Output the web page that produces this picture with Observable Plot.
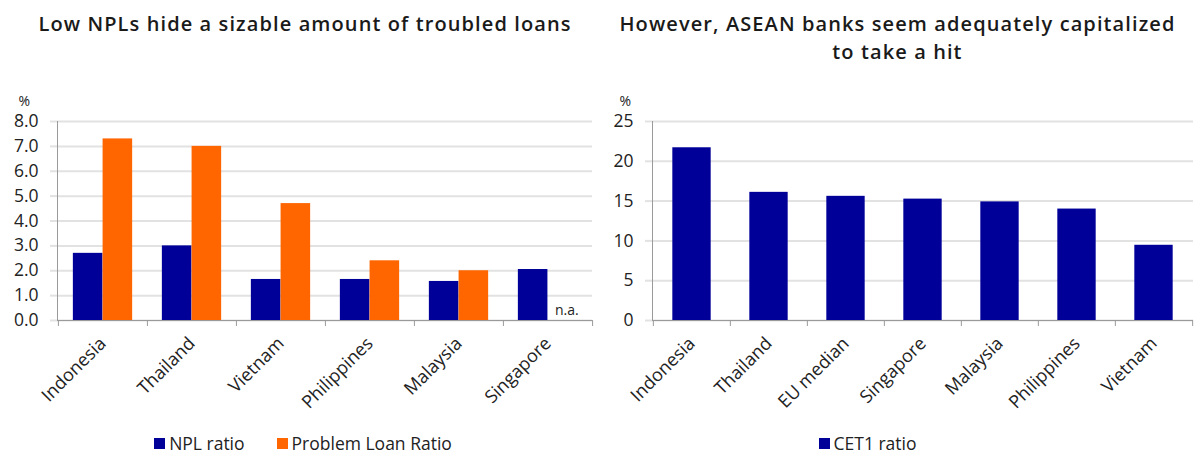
<!DOCTYPE html>
<html>
<head>
<meta charset="utf-8">
<script src="https://cdn.jsdelivr.net/npm/d3@7"></script>
<script src="https://cdn.jsdelivr.net/npm/@observablehq/plot@0.6"></script>
<style>
  body { margin: 0; background: #fff; font-family: "Open Sans", sans-serif; color: #222; }
  #wrap { display: flex; width: 1197px; height: 457px; }
  .panel { position: relative; height: 457px; }
  .title { position: absolute; top: 10px; left: 0; right: 0; text-align: center;
           font-family: "Open Sans", sans-serif; font-weight: 600; font-size: 20px; line-height: 28px;
           letter-spacing: 1.1px; color: #1a1a1a; }
  .panel svg { position: absolute; top: 85px; left: 0; }
  .legend { position: absolute; top: 432px; left: 0; right: 0; display: flex; justify-content: center;
            font-size: 17.5px; line-height: 22px; color: #222; }
  .legend .item { display: flex; align-items: center; margin: 0 16px; }
  .legend .sw { width: 11px; height: 11px; margin-right: 4px; }
</style>
</head>
<body>
<div id="wrap">
  <div class="panel" id="left" style="width:598px">
    <div class="title" style="padding-left:12px">Low NPLs hide a sizable amount of troubled loans</div>
  </div>
  <div class="panel" id="right" style="width:599px">
    <div class="title">However, ASEAN banks seem adequately capitalized<br>to take a hit</div>
  </div>
</div>
<script>
// ---- Data: left chart ----
const categoriesL = ["Indonesia", "Thailand", "Vietnam", "Philippines", "Malaysia", "Singapore"];
const nplRatio = [2.7, 3.0, 1.65, 1.65, 1.57, 2.05];
const problemLoanRatio = [7.3, 7.0, 4.7, 2.4, 2.0, null];
const seriesL = ["NPL ratio", "Problem Loan Ratio"];
const yTicksL = [0, 1, 2, 3, 4, 5, 6, 7, 8];
const naLabel = "n.a.";

// ---- Data: right chart ----
const categoriesR = ["Indonesia", "Thailand", "EU median", "Singapore", "Malaysia", "Philippines", "Vietnam"];
const cet1Ratio = [21.7, 16.1, 15.6, 15.25, 14.9, 14.0, 9.45];
const seriesR = ["CET1 ratio"];
const yTicksR = [0, 5, 10, 15, 20, 25];

const BLUE = "#000099";
const ORANGE = "#ff6600";
const GRID = "#e2e2e2";
const AXIS = "#9a9a9a";
const FS = 17.5;
const FSX = 18;

function legend(series, colors, style) {
  const div = document.createElement("div");
  div.className = "legend";
  Object.assign(div.style, style || {});
  series.forEach((s, i) => {
    const it = document.createElement("div");
    it.className = "item";
    const sw = document.createElement("span");
    sw.className = "sw";
    sw.style.background = colors[i];
    const t = document.createElement("span");
    t.textContent = s;
    it.appendChild(sw); it.appendChild(t);
    div.appendChild(it);
  });
  return div;
}

const commonStyle = { fontFamily: "Open Sans, sans-serif", fontSize: FS + "px", color: "#222", background: "transparent", overflow: "visible" };

// ---- Left chart ----
{
  const width = 598, marginLeft = 57, marginRight = 6;
  const step = (width - marginLeft - marginRight) / categoriesL.length;
  const rowsNPL = categoriesL.map((c, i) => ({ category: c, value: nplRatio[i] }));
  const rowsPLR = categoriesL.map((c, i) => ({ category: c, value: problemLoanRatio[i] }));
  const rowsNA = rowsPLR.filter(d => d.value == null);
  const chart = Plot.plot({
    width, height: 335, marginLeft, marginRight, marginTop: 36, marginBottom: 100,
    style: commonStyle,
    x: { type: "band", domain: categoriesL, padding: 0 },
    y: { domain: [0, 8] },
    marks: [
      Plot.gridY(yTicksL, { stroke: GRID, strokeOpacity: 1, strokeWidth: 2 }),
      Plot.axisY(yTicksL, { tickSize: 7, tickPadding: 12, stroke: GRID, strokeWidth: 2, tickFormat: d3.format(".1f"), label: null, fontSize: FS }),
      Plot.barY(rowsNPL, { x: "category", y: "value", fill: BLUE, insetLeft: step / 6, insetRight: step / 2 }),
      Plot.barY(rowsPLR, { x: "category", y: "value", fill: ORANGE, insetLeft: step / 2, insetRight: step / 6 }),
      Plot.text(rowsNA, { x: "category", y: 0, text: () => naLabel, dx: step / 6 + 4, dy: -10, fontSize: 14 }),
      Plot.ruleY([0], { stroke: AXIS }),
      Plot.frame({ anchor: "left", stroke: AXIS }),
      Plot.axisX(categoriesL, { tickSize: 6, stroke: AXIS, fill: "none", dx: -step / 2, label: null }),
      Plot.axisX(categoriesL.slice(-1), { tickSize: 6, stroke: AXIS, fill: "none", dx: step / 2, label: null }),
      Plot.axisX({ tickSize: 0, tickRotate: -45, tickPadding: 20, label: null, fontSize: FSX }),
      Plot.text(["%"], { frameAnchor: "top-left", dx: -39, dy: -25, fontSize: 14 })
    ]
  });
  const p = document.getElementById("left");
  p.appendChild(chart);
  p.appendChild(legend(seriesL, [BLUE, ORANGE], { paddingLeft: "8px" }));
}

// ---- Right chart ----
{
  const width = 599, marginLeft = 54, marginRight = 4;
  const step = (width - marginLeft - marginRight) / categoriesR.length;
  const rows = categoriesR.map((c, i) => ({ category: c, value: cet1Ratio[i] }));
  const chart = Plot.plot({
    width, height: 335, marginLeft, marginRight, marginTop: 36, marginBottom: 100,
    style: commonStyle,
    x: { type: "band", domain: categoriesR, padding: 0 },
    y: { domain: [0, 25] },
    marks: [
      Plot.gridY(yTicksR, { stroke: GRID, strokeOpacity: 1, strokeWidth: 2 }),
      Plot.axisY(yTicksR, { tickSize: 7, tickPadding: 12, stroke: GRID, strokeWidth: 2, tickFormat: d3.format("d"), label: null, fontSize: FS }),
      Plot.barY(rows, { x: "category", y: "value", fill: BLUE, insetLeft: step / 4, insetRight: step / 4 }),
      Plot.ruleY([0], { stroke: AXIS }),
      Plot.frame({ anchor: "left", stroke: AXIS }),
      Plot.axisX(categoriesR, { tickSize: 6, stroke: AXIS, fill: "none", dx: -step / 2, label: null }),
      Plot.axisX(categoriesR.slice(-1), { tickSize: 6, stroke: AXIS, fill: "none", dx: step / 2, label: null }),
      Plot.axisX({ tickSize: 0, tickRotate: -45, tickPadding: 20, label: null, fontSize: FSX }),
      Plot.text(["%"], { frameAnchor: "top-left", dx: -33, dy: -25, fontSize: 14 })
    ]
  });
  const p = document.getElementById("right");
  p.appendChild(chart);
  p.appendChild(legend(seriesR, [BLUE], { paddingRight: "60px" }));
}
</script>
</body>
</html>
